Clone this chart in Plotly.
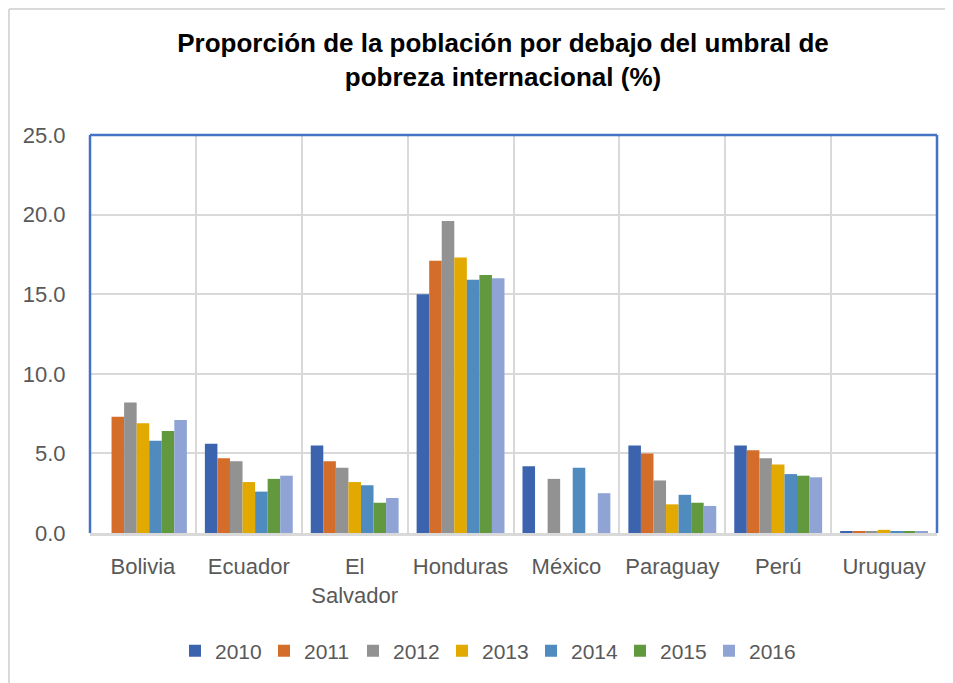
import plotly.graph_objects as go

categories = ["Bolivia", "Ecuador", "El<br>Salvador", "Honduras", "México", "Paraguay", "Perú", "Uruguay"]
years = ["2010", "2011", "2012", "2013", "2014", "2015", "2016"]

v2010 = [None, 5.6, 5.5, 15.0, 4.2, 5.5, 5.5, 0.1]
v2011 = [7.3, 4.7, 4.5, 17.1, None, 5.0, 5.2, 0.1]
v2012 = [8.2, 4.5, 4.1, 19.6, 3.4, 3.3, 4.7, 0.1]
v2013 = [6.9, 3.2, 3.2, 17.3, None, 1.8, 4.3, 0.2]
v2014 = [5.8, 2.6, 3.0, 15.9, 4.1, 2.4, 3.7, 0.1]
v2015 = [6.4, 3.4, 1.9, 16.2, None, 1.9, 3.6, 0.1]
v2016 = [7.1, 3.6, 2.2, 16.0, 2.5, 1.7, 3.5, 0.1]

series = [v2010, v2011, v2012, v2013, v2014, v2015, v2016]
colors = ["#3C64AE", "#D46D2A", "#929292", "#E2A900", "#4F8BBE", "#62993F", "#8FA4D5"]

FONT = "Liberation Sans, Arial, sans-serif"

fig = go.Figure()
for name, vals, col in zip(years, series, colors):
    fig.add_trace(go.Bar(x=categories, y=vals, name=name, marker_color=col,
                         marker_line_width=0))

# page is offset by 8px (body margin); figure sized to fit the window
OFF = 8
W, H = 945, 675
L, R, T, B = 82, 16, 127, 150
pw = W - L - R
ph = H - T - B

def px2x(p):  # page pixel -> paper x
    return (p - OFF - L) / pw

def py2y(p):  # page pixel -> paper y
    return (H - B - (p - OFF)) / ph

shapes = [
    # outer chart border (light gray)
    dict(type="line", xref="paper", yref="paper", x0=px2x(9), x1=px2x(9), y0=py2y(9), y1=py2y(700),
         line=dict(color="#D9D9D9", width=2), layer="below"),
    dict(type="line", xref="paper", yref="paper", x0=px2x(9), x1=px2x(970), y0=py2y(9), y1=py2y(9),
         line=dict(color="#D9D9D9", width=2), layer="below"),
    # plot area border (blue) left, top, right
    dict(type="line", xref="paper", yref="paper", x0=0, x1=0, y0=0, y1=1,
         line=dict(color="#4472C4", width=2.5), layer="above"),
    dict(type="line", xref="paper", yref="paper", x0=0, x1=1, y0=1, y1=1,
         line=dict(color="#4472C4", width=2.5), layer="above"),
    dict(type="line", xref="paper", yref="paper", x0=1, x1=1, y0=0, y1=1,
         line=dict(color="#4472C4", width=2.5), layer="above"),
]

fig.update_layout(
    width=W, height=H,
    margin=dict(l=L, r=R, t=T, b=B, autoexpand=False),
    paper_bgcolor="white", plot_bgcolor="white",
    barmode="group", bargap=0.17, bargroupgap=0,
    font=dict(family=FONT, size=22, color="#595959"),
    title=dict(text="<b>Proporción de la población por debajo del umbral de<br>pobreza internacional (%)</b>",
               x=(503 - OFF) / W, xanchor="center", y=1 - 44.4 / H, yanchor="top",
               font=dict(family=FONT, size=26, color="#000000")),
    xaxis=dict(type="category", tickson="boundaries", showgrid=True, gridcolor="#D9D9D9", gridwidth=2,
               showline=True, linecolor="#D9D9D9", linewidth=3, automargin=False, tickangle=0,
               ticks="", ticklabelstandoff=12,
               tickfont=dict(family=FONT, size=22, color="#595959")),
    yaxis=dict(range=[0, 25], dtick=5, tickformat=".1f", showgrid=True, gridcolor="#D9D9D9", gridwidth=2,
               zeroline=False, showline=False, automargin=False,
               ticks="outside", ticklen=19, tickcolor="rgba(0,0,0,0)",
               tickfont=dict(family=FONT, size=22, color="#595959")),
    legend=dict(orientation="h", x=px2x(175), xanchor="left", y=py2y(651), yanchor="middle",
                font=dict(family=FONT, size=21, color="#595959"),
                itemwidth=30, entrywidth=44, traceorder="normal"),
    shapes=shapes,
)

fig.write_html("out.html")
